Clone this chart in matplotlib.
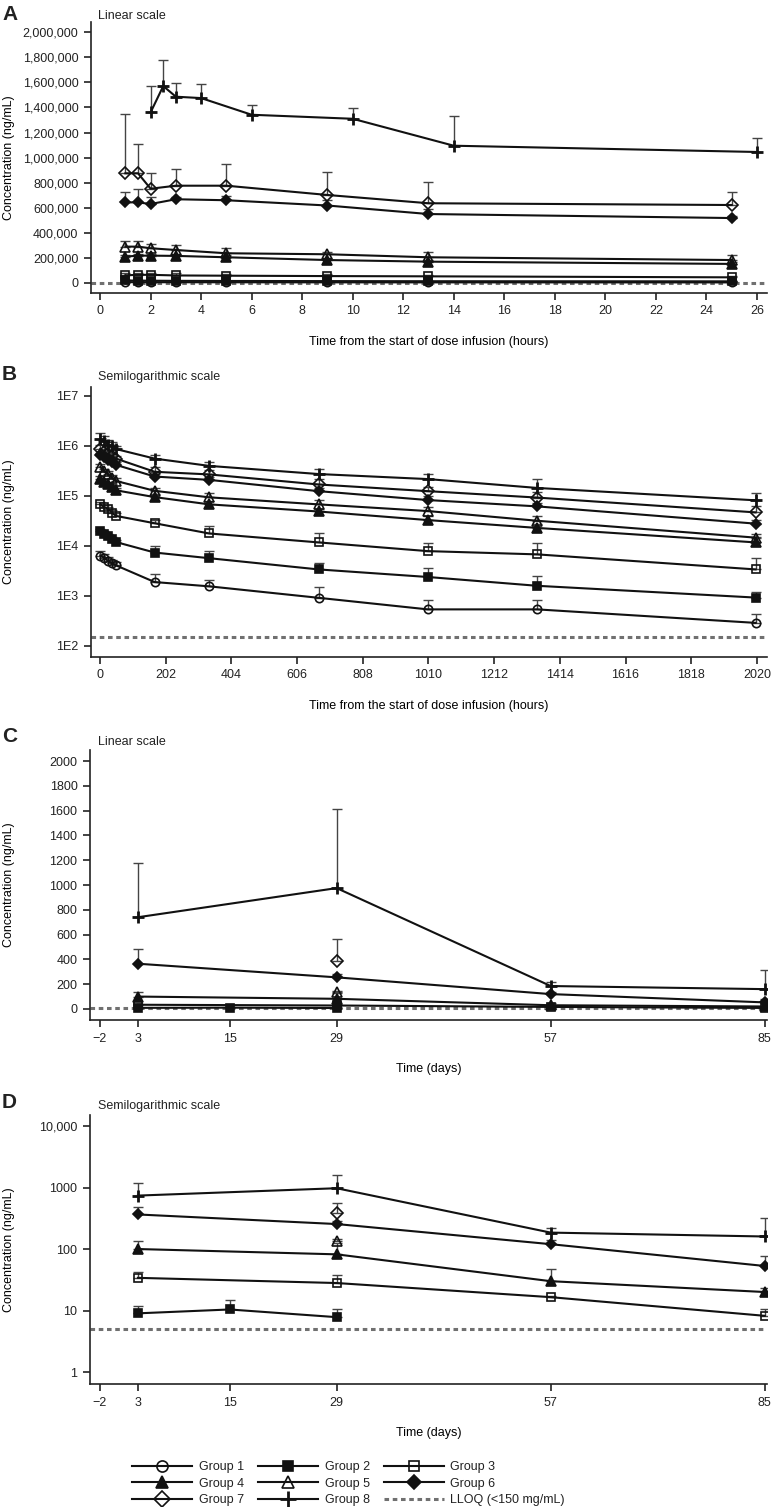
import numpy as np
import matplotlib.pyplot as plt
from matplotlib.lines import Line2D

plt.rcParams['font.family'] = ['Liberation Sans', 'DejaVu Sans']
plt.rcParams['font.size'] = 9
plt.rcParams['text.color'] = '#222222'

groups = ['Group 1', 'Group 2', 'Group 3', 'Group 4', 'Group 5', 'Group 6', 'Group 7', 'Group 8']

# panel A: first 26 hours (linear)
a_hours = [1, 1.5, 2, 3, 5, 9, 13, 25]
a_hours_g8 = [2, 2.5, 3, 4, 6, 10, 14, 26]
a_mean = [
    [6400, 6200, 6000, 5800, 5500, 5000, 4800, 4500],
    [20000, 19000, 18000, 17000, 16000, 15000, 14000, 13000],
    [61000, 65000, 65000, 60000, 58000, 55000, 53000, 45000],
    [210000, 218000, 218000, 216000, 205000, 183000, 170000, 152000],
    [290000, 290000, 277000, 263000, 237000, 229000, 205000, 183000],
    [643000, 643000, 630000, 668000, 660000, 618000, 550000, 518000],
    [875000, 875000, 752000, 776000, 776000, 702000, 636000, 622000],
    [1361000, 1571000, 1486000, 1475000, 1342000, 1310000, 1095000, 1045000],
]
a_sd = [
    [1400, 1300, 1200, 1100, 1000, 1000, 900, 800],
    [2500, 2500, 2000, 2000, 2000, 2000, 1500, 1500],
    [20000, 18000, 18000, 16000, 15000, 14000, 14000, 12000],
    [15000, 15000, 15000, 15000, 15000, 15000, 15000, 15000],
    [45000, 45000, 31000, 40000, 40000, 21000, 40000, 43000],
    [85000, 109000, 58000, 20000, 30000, 40000, 40000, 15000],
    [475000, 231000, 125000, 131000, 173000, 181000, 172000, 106000],
    [210000, 207000, 111000, 114000, 77000, 83000, 237000, 109000],
]

# panel B: full course in hours (log)
b_hours = [1, 13, 25, 37, 49, 168, 336, 672, 1008, 1344, 2016]
b_mean = [
    [6400, 5800, 5000, 4500, 4100, 1900, 1560, 920, 540, 540, 290],
    [20000, 17500, 15500, 13500, 12000, 7400, 5700, 3400, 2400, 1600, 930],
    [68000, 60000, 55000, 46000, 40000, 28500, 17800, 11800, 7900, 6800, 3400],
    [220000, 190000, 170000, 150000, 130000, 95000, 68000, 49000, 33000, 23000, 11800],
    [380000, 310000, 270000, 230000, 200000, 127000, 94000, 68000, 50000, 32000, 14700],
    [650000, 600000, 520000, 470000, 420000, 245000, 210000, 125000, 83000, 62000, 28000],
    [880000, 760000, 680000, 620000, 560000, 305000, 270000, 170000, 125000, 93000, 47000],
    [1400000, 1250000, 1050000, 1000000, 870000, 560000, 400000, 275000, 218000, 145000, 82000],
]
b_sd = [
    [1400, 1100, 900, 800, 700, 900, 550, 560, 285, 285, 140],
    [2000, 2000, 1500, 1500, 1200, 2400, 2200, 1200, 1200, 900, 270],
    [8000, 7000, 6000, 6000, 5000, 5000, 7000, 6000, 3400, 4900, 2400],
    [30000, 25000, 20000, 20000, 15000, 13000, 10000, 7000, 6000, 4000, 3000],
    [50000, 40000, 40000, 30000, 30000, 20000, 22000, 14000, 10000, 7000, 3000],
    [80000, 70000, 60000, 50000, 50000, 30000, 30000, 20000, 15000, 10000, 5000],
    [150000, 120000, 100000, 90000, 80000, 70000, 60000, 45000, 25000, 25000, 15000],
    [460000, 300000, 250000, 200000, 150000, 90000, 80000, 70000, 56000, 71000, 33000],
]

# panels C and D: time in days
d_days = [[], [3, 15, 29], [3, 29, 57, 85], [3, 29, 57, 85], [29], [3, 29, 57, 85], [29], [3, 29, 57, 85]]
d_mean = [[], [9.0, 10.4, 7.8], [34, 28, 16.5, 8.2], [100, 82, 30, 20], [135],
          [365, 255, 120, 53], [390], [740, 975, 185, 160]]
d_sd = [[], [3.0, 4.6, 2.6], [8, 10, 1, 2.2], [35, 45, 17, 3], [10],
        [115, 30, 20, 25], [175], [440, 640, 35, 155]]

lloq_hours = 150
lloq_days = 5

markers = ['o', 's', 's', '^', '^', 'D', 'D', '+']
filled = [False, True, False, True, False, True, False, True]
msizes = [6, 5.5, 5.5, 6.5, 6.5, 5.5, 6, 9]
ink = '#111111'
lloq_style = dict(color='#707070', lw=2.2, ls=(0, (1.5, 1.2)))

W, H = 772, 1507
fig = plt.figure(figsize=(W / 100, H / 100), dpi=100)


def box(left, top, right, bottom):
    return [left / W, 1 - bottom / H, (right - left) / W, (bottom - top) / H]


def style_axes(ax):
    for s in ['top', 'right']:
        ax.spines[s].set_visible(False)
    for s in ['left', 'bottom']:
        ax.spines[s].set_linewidth(1.2)
        ax.spines[s].set_color('#222222')
    ax.tick_params(direction='out', length=5, width=1.2, pad=4, labelsize=9, colors='#222222')
    ax.minorticks_off()


def draw_group(ax, x, y, sd, i):
    if len(x) == 0:
        return
    ax.errorbar(x, y, yerr=[np.zeros(len(sd)), sd], fmt='none', ecolor='#444444',
                elinewidth=1, capsize=3.5, capthick=1, zorder=2)
    ax.plot(x, y, color=ink, lw=1.5, marker=markers[i], ms=msizes[i],
            mfc=ink if filled[i] else 'none', mec=ink, mew=2 if i == 7 else 1.2, zorder=3)


def labels(ax, letter, letter_y, sub, sub_y, xlabel):
    fig.text(2 / W, 1 - letter_y / H, letter, fontsize=15, fontweight='bold', va='center', ha='left')
    fig.text(98 / W, 1 - sub_y / H, sub, fontsize=9, va='center', ha='left')
    ax.set_ylabel('Concentration (ng/mL)', fontsize=9)
    left = ax.get_position().x0 * W
    ax.yaxis.set_label_coords(-(left - 15) / (767 - left), 0.5)
    ax.set_xlabel(xlabel, fontsize=9, labelpad=13)


# A
axA = fig.add_axes(box(91, 22, 767, 293))
style_axes(axA)
for i in range(8):
    xs = a_hours_g8 if i == 7 else a_hours
    draw_group(axA, xs, a_mean[i], a_sd[i], i)
axA.axhline(lloq_hours, **lloq_style, zorder=1)
axA.set_xlim(-0.36, 26.4)
axA.set_ylim(-80000, 2082000)
axA.set_xticks(range(0, 27, 2))
yt = list(range(0, 2000001, 200000))
axA.set_yticks(yt)
axA.set_yticklabels([f'{v:,}' for v in yt])
labels(axA, 'A', 15, 'Linear scale', 16, 'Time from the start of dose infusion (hours)')

# B
axB = fig.add_axes(box(91, 387, 767, 657))
style_axes(axB)
axB.set_yscale('log')
for i in range(8):
    draw_group(axB, b_hours, b_mean[i], b_sd[i], i)
axB.axhline(lloq_hours, **lloq_style, zorder=1)
axB.set_xlim(-27.7, 2051)
axB.set_ylim(10 ** 1.78, 10 ** 7.18)
axB.set_xticks(range(0, 2021, 202))
axB.set_yticks([1e2, 1e3, 1e4, 1e5, 1e6, 1e7])
axB.set_yticklabels(['1E2', '1E3', '1E4', '1E5', '1E6', '1E7'])
axB.minorticks_off()
labels(axB, 'B', 374, 'Semilogarithmic scale', 377, 'Time from the start of dose infusion (hours)')

day_ticks = [-2, 3, 15, 29, 57, 85]

# C
axC = fig.add_axes(box(90, 750, 767, 1020))
style_axes(axC)
for i in range(8):
    draw_group(axC, d_days[i], d_mean[i], d_sd[i], i)
axC.axhline(lloq_days, **lloq_style, zorder=1)
axC.set_xlim(-3.27, 85.3)
axC.set_ylim(-89, 2089)
axC.set_xticks(day_ticks)
axC.set_yticks(range(0, 2001, 200))
labels(axC, 'C', 736, 'Linear scale', 742, 'Time (days)')

# D
axD = fig.add_axes(box(90, 1115, 767, 1384))
style_axes(axD)
axD.set_yscale('log')
for i in range(8):
    draw_group(axD, d_days[i], d_mean[i], d_sd[i], i)
axD.axhline(lloq_days, **lloq_style, zorder=1)
axD.set_xlim(-3.27, 85.3)
axD.set_ylim(10 ** -0.195, 10 ** 4.18)
axD.set_xticks(day_ticks)
axD.set_yticks([1, 10, 100, 1000, 10000])
axD.set_yticklabels(['1', '10', '100', '1000', '10,000'])
axD.minorticks_off()
labels(axD, 'D', 1102, 'Semilogarithmic scale', 1106, 'Time (days)')

# legend, filled row by row
handles = []
for i in range(8):
    handles.append(Line2D([], [], color=ink, lw=1.5, marker=markers[i], ms=msizes[i] + 2,
                          mfc=ink if filled[i] else 'none', mec=ink, mew=2 if i == 7 else 1.2))
handles.append(Line2D([], [], **lloq_style))
names = groups + ['LLOQ (<150 mg/mL)']
order = [0, 3, 6, 1, 4, 7, 2, 5, 8]
fig.legend([handles[k] for k in order], [names[k] for k in order], ncol=3,
           loc='upper left', bbox_to_anchor=(132 / W, 1 - 1461 / H), frameon=False,
           borderpad=0, borderaxespad=0, handlelength=4.8, handletextpad=0.55,
           columnspacing=1.1, labelspacing=0.38, fontsize=9)

fig.savefig('out.png', dpi=100)
